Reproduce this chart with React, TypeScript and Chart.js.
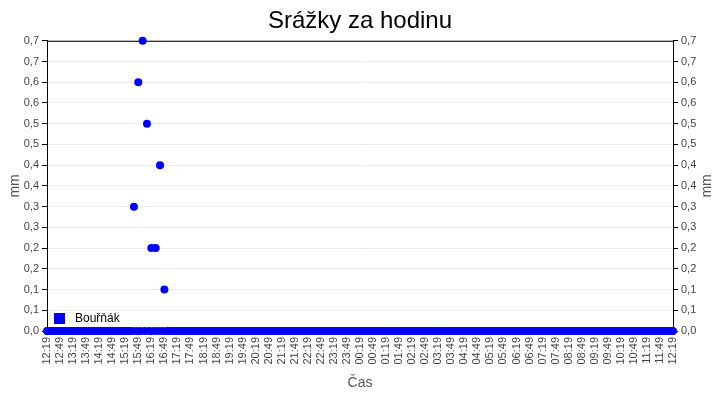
import { useEffect, useRef } from "react";
import { Chart, registerables } from "chart.js";

Chart.register(...registerables);

// popisky osy X (každých 30 minut)
const tickLabels = [
  "12:19", "12:49", "13:19", "13:49", "14:19", "14:49", "15:19", "15:49",
  "16:19", "16:49", "17:19", "17:49", "18:19", "18:49", "19:19", "19:49",
  "20:19", "20:49", "21:19", "21:49", "22:19", "22:49", "23:19", "23:49",
  "00:19", "00:49", "01:19", "01:49", "02:19", "02:49", "03:19", "03:49",
  "04:19", "04:49", "05:19", "05:49", "06:19", "06:49", "07:19", "07:49",
  "08:19", "08:49", "09:19", "09:49", "10:19", "10:49", "11:19", "11:49",
  "12:19",
];

// časy měření po 5 minutách od 12:19 do 12:19 dalšího dne
const START_MIN = 12 * 60 + 19;
const STEP_MIN = 5;
const COUNT = 289;
const times: string[] = [];
for (let i = 0; i < COUNT; i++) {
  const m = (START_MIN + i * STEP_MIN) % 1440;
  times.push(
    `${String(Math.floor(m / 60)).padStart(2, "0")}:${String(m % 60).padStart(2, "0")}`,
  );
}

// srážky v mm
const rain = [
  0, 0, 0, 0, 0, 0, 0, 0, 0, 0, 0, 0, 0, 0, 0, 0, 0, 0, 0, 0, 0, 0, 0, 0,
  0, 0, 0, 0, 0, 0, 0, 0, 0, 0, 0, 0, 0, 0, 0, 0, 0.3, 0, 0.6, 0, 0.7, 0, 0.5, 0,
  0.2, 0, 0.2, 0, 0.4, 0, 0.1, 0, 0, 0, 0, 0, 0, 0, 0, 0, 0, 0, 0, 0, 0, 0, 0, 0,
  0, 0, 0, 0, 0, 0, 0, 0, 0, 0, 0, 0, 0, 0, 0, 0, 0, 0, 0, 0, 0, 0, 0, 0,
  0, 0, 0, 0, 0, 0, 0, 0, 0, 0, 0, 0, 0, 0, 0, 0, 0, 0, 0, 0, 0, 0, 0, 0,
  0, 0, 0, 0, 0, 0, 0, 0, 0, 0, 0, 0, 0, 0, 0, 0, 0, 0, 0, 0, 0, 0, 0, 0,
  0, 0, 0, 0, 0, 0, 0, 0, 0, 0, 0, 0, 0, 0, 0, 0, 0, 0, 0, 0, 0, 0, 0, 0,
  0, 0, 0, 0, 0, 0, 0, 0, 0, 0, 0, 0, 0, 0, 0, 0, 0, 0, 0, 0, 0, 0, 0, 0,
  0, 0, 0, 0, 0, 0, 0, 0, 0, 0, 0, 0, 0, 0, 0, 0, 0, 0, 0, 0, 0, 0, 0, 0,
  0, 0, 0, 0, 0, 0, 0, 0, 0, 0, 0, 0, 0, 0, 0, 0, 0, 0, 0, 0, 0, 0, 0, 0,
  0, 0, 0, 0, 0, 0, 0, 0, 0, 0, 0, 0, 0, 0, 0, 0, 0, 0, 0, 0, 0, 0, 0, 0,
  0, 0, 0, 0, 0, 0, 0, 0, 0, 0, 0, 0, 0, 0, 0, 0, 0, 0, 0, 0, 0, 0, 0, 0,
  0,
];

const FONT = "'Liberation Sans', Arial, sans-serif";
const BLUE = "#0000ff";

const fmtMm = (v: number | string) =>
  (Math.round(Number(v) * 10 + 1e-6) / 10).toFixed(1).replace(".", ",");

const extras = {
  id: "extras",
  beforeDatasetsDraw(chart: Chart) {
    const { ctx, chartArea } = chart;
    ctx.save();
    ctx.strokeStyle = "#000";
    ctx.lineWidth = 1;
    ctx.beginPath();
    ctx.moveTo(chartArea.left, chartArea.top + 0.5);
    ctx.lineTo(chartArea.right, chartArea.top + 0.5);
    ctx.stroke();
    ctx.restore();
  },
  afterDatasetsDraw(chart: Chart) {
    const { ctx, chartArea } = chart;
    ctx.save();
    // legenda uvnitř grafu
    ctx.fillStyle = BLUE;
    ctx.fillRect(chartArea.left + 7, chartArea.bottom - 18, 11, 11);
    ctx.fillStyle = "#000";
    ctx.font = `12px ${FONT}`;
    ctx.textBaseline = "middle";
    ctx.fillText("Bouřňák", chartArea.left + 28, chartArea.bottom - 12);
    // pravý popisek osy
    ctx.translate(707, (chartArea.top + chartArea.bottom) / 2);
    ctx.rotate(-Math.PI / 2);
    ctx.textAlign = "center";
    ctx.fillStyle = "#555";
    ctx.font = `14px ${FONT}`;
    ctx.fillText("mm", 0, 0);
    ctx.restore();
  },
};

export default function App() {
  const canvasRef = useRef<HTMLCanvasElement | null>(null);

  useEffect(() => {
    document.body.style.margin = "0";
    if (!canvasRef.current) return;

    const yTicks = {
      stepSize: 0.05,
      color: "#444",
      font: { family: FONT, size: 11 },
      padding: 3,
      callback: (v: number | string) => fmtMm(v),
    };

    const chart = new Chart(canvasRef.current, {
      type: "line",
      data: {
        labels: times,
        datasets: [
          {
            label: "Bouřňák",
            data: rain,
            showLine: false,
            pointRadius: 4,
            pointHoverRadius: 4,
            pointBorderWidth: 0,
            pointBackgroundColor: BLUE,
            borderColor: BLUE,
            backgroundColor: BLUE,
            clip: false,
            yAxisID: "y",
          },
        ],
      },
      plugins: [extras],
      options: {
        responsive: true,
        maintainAspectRatio: false,
        animation: false,
        layout: { padding: 0 },
        plugins: {
          legend: { display: false },
          tooltip: { enabled: false },
          title: {
            display: true,
            text: "Srážky za hodinu",
            color: "#000",
            font: { family: FONT, size: 24, weight: "normal" },
            padding: { top: 7, bottom: 5 },
          },
        },
        scales: {
          x: {
            offset: false,
            border: { color: "#000" },
            grid: {
              drawOnChartArea: false,
              tickLength: 4,
              tickColor: (c: any) => (c.index % 6 === 0 ? "#000" : "rgba(0,0,0,0)"),
            },
            ticks: {
              autoSkip: false,
              minRotation: 90,
              maxRotation: 90,
              padding: 2,
              color: "#444",
              font: { family: FONT, size: 11 },
              callback: (_v: any, i: number) => (i % 6 === 0 ? tickLabels[i / 6] : ""),
            },
            title: {
              display: true,
              text: "Čas",
              color: "#555",
              font: { family: FONT, size: 14 },
              padding: { top: 4, bottom: 8 },
            },
            afterFit: (s: any) => {
              s.height = 69;
            },
          },
          y: {
            position: "left",
            min: 0,
            max: 0.7,
            border: { color: "#000" },
            grid: { color: "#ebebeb", tickColor: "#000", tickLength: 5 },
            ticks: yTicks,
            title: {
              display: true,
              text: "mm",
              color: "#555",
              font: { family: FONT, size: 14 },
              padding: { top: 7, bottom: 0 },
            },
            afterFit: (s: any) => {
              s.width = 47;
            },
          },
          y2: {
            position: "right",
            display: true,
            min: 0,
            max: 0.7,
            border: { color: "#000" },
            grid: { drawOnChartArea: false, tickColor: "#000", tickLength: 5 },
            ticks: yTicks,
            afterFit: (s: any) => {
              s.width = 47;
            },
          },
        },
      },
    });

    return () => chart.destroy();
  }, []);

  return (
    <div style={{ position: "relative", width: 720, height: 400 }}>
      <canvas ref={canvasRef} />
    </div>
  );
}
